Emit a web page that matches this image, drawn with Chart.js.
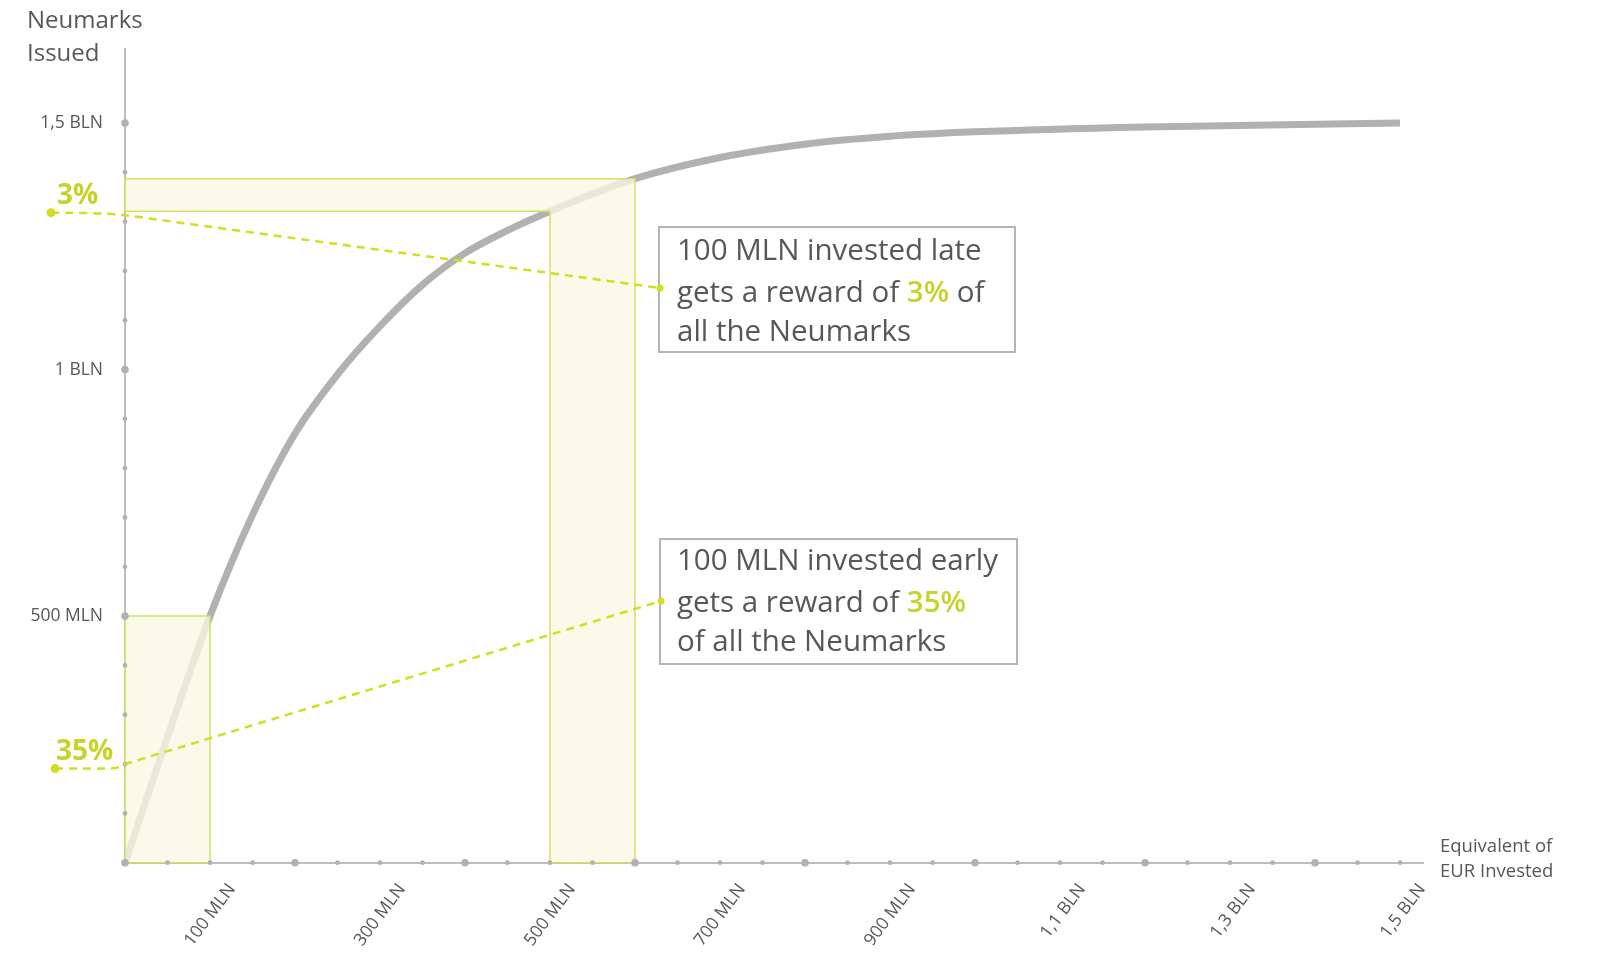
<!DOCTYPE html>
<html lang="en">
<head>
    <meta charset="UTF-8">
    <title>Neumarks issued</title>
    <script src="https://cdn.jsdelivr.net/npm/chart.js"></script>
    <style>
        html, body { margin: 0; padding: 0; background: #fff; }
        #wrap { width: 1600px; height: 960px; position: relative; }
    </style>
</head>
<body>
<div id="wrap"><canvas id="curveChart"></canvas></div>

<script>
    // curve (MLN EUR invested -> MLN Neumarks issued)
    const invested = [0, 50, 100, 150, 200, 250, 300, 350, 400, 450, 500, 600, 700, 800, 900, 1000, 1200, 1500];
    const issued   = [0, 255, 500, 705, 870, 990, 1088, 1172, 1236, 1282, 1321, 1387, 1430, 1457, 1473, 1482, 1492, 1500];

    // x axis: a dot every 50 MLN, bigger every 200 MLN, labels every other 100 MLN
    const xTicks = [0, 50, 100, 150, 200, 250, 300, 350, 400, 450, 500, 550, 600, 650, 700, 750,
                    800, 850, 900, 950, 1000, 1050, 1100, 1150, 1200, 1250, 1300, 1350, 1400, 1450, 1500];
    const xMajor = [0, 200, 400, 600, 800, 1000, 1200, 1400];
    const xLabelValues = [100, 300, 500, 700, 900, 1100, 1300, 1500];
    const xLabelTexts  = ['100 MLN', '300 MLN', '500 MLN', '700 MLN', '900 MLN', '1,1 BLN', '1,3 BLN', '1,5 BLN'];

    // y axis: a dot every 100 MLN
    const yTicks = [0, 100, 200, 300, 400, 500, 600, 700, 800, 900, 1000, 1100, 1200, 1300, 1400, 1500];
    const yMajor = [500, 1000, 1500];
    const yLabelValues = [500, 1000, 1500];
    const yLabelTexts  = ['500 MLN', '1 BLN', '1,5 BLN'];

    // the two 100 MLN slices
    const earlyRange = [0, 100];
    const lateRange  = [500, 600];
    const earlyShare = '35%';
    const lateShare  = '3%';
    // where the dashed callouts cross the y axis (MLN)
    const earlyCross = 200;
    const lateCross  = 1313;

    const GREEN = '#d3de1e';
    const GREEN_TEXT = '#c5d32a';
    const GREY = '#b1b1b1';
    const TEXT = '#575757';
    const FONT = '"Open Sans", sans-serif';

    function issuedAt(v) {
        return issued[invested.indexOf(v)];
    }

    function dot(ctx, x, y, r, color) {
        ctx.beginPath();
        ctx.arc(x, y, r, 0, Math.PI * 2);
        ctx.fillStyle = color;
        ctx.fill();
    }

    // draw text pieces of different colours one after another
    function runs(ctx, parts, x, y) {
        parts.forEach(p => {
            ctx.font = p[2] + ' 29.5px ' + FONT;
            ctx.fillStyle = p[1];
            ctx.fillText(p[0], x, y);
            x += ctx.measureText(p[0]).width;
        });
    }

    const decor = {
        id: 'decor',
        afterDatasetsDraw(chart) {
            const { ctx, scales: { x, y } } = chart;
            const X = v => x.getPixelForValue(v);
            const Y = v => y.getPixelForValue(v);
            ctx.save();
            ctx.fillStyle = 'rgba(247, 248, 228, 0.78)';
            ctx.strokeStyle = '#d6df62';
            ctx.lineWidth = 1.5;

            // early box
            ctx.beginPath();
            ctx.rect(X(earlyRange[0]), Y(issuedAt(earlyRange[1])),
                     X(earlyRange[1]) - X(earlyRange[0]), Y(0) - Y(issuedAt(earlyRange[1])));
            ctx.fill();
            ctx.stroke();

            // late L-shape
            const top = Y(issuedAt(lateRange[1]));
            const bar = Y(issuedAt(lateRange[0]));
            ctx.beginPath();
            ctx.moveTo(X(0), top);
            ctx.lineTo(X(lateRange[1]), top);
            ctx.lineTo(X(lateRange[1]), Y(0));
            ctx.lineTo(X(lateRange[0]), Y(0));
            ctx.lineTo(X(lateRange[0]), bar);
            ctx.lineTo(X(0), bar);
            ctx.closePath();
            ctx.fill();
            ctx.stroke();
            ctx.restore();
        },
        afterDraw(chart) {
            const { ctx, scales: { x, y } } = chart;
            const X = v => x.getPixelForValue(v);
            const Y = v => y.getPixelForValue(v);
            const ax = y.right;
            const ay = x.top;
            ctx.save();

            // axis dots
            xTicks.forEach(v => dot(ctx, X(v), ay, xMajor.includes(v) ? 3.8 : 2.4, GREY));
            yTicks.forEach(v => dot(ctx, ax, Y(v), yMajor.includes(v) ? 3.8 : 2.4, GREY));

            // callout boxes
            const boxes = [
                { left: 659, top: 227, w: 356, h: 125 },
                { left: 660, top: 539, w: 357, h: 125 }
            ];
            ctx.lineWidth = 2;
            ctx.strokeStyle = '#b5b5b5';
            boxes.forEach(b => {
                ctx.fillStyle = '#fff';
                ctx.fillRect(b.left, b.top, b.w, b.h);
                ctx.strokeRect(b.left, b.top, b.w, b.h);
            });

            // dashed callouts
            ctx.strokeStyle = GREEN;
            ctx.lineWidth = 2.5;
            ctx.setLineDash([8, 6]);

            const lateY = Y(lateCross);
            const lateEnd = { x: boxes[0].left + 1, y: boxes[0].top + 61 };
            const lateDot = { x: ax - 74, y: lateY - 2.5 };
            ctx.beginPath();
            ctx.moveTo(lateDot.x, lateDot.y);
            ctx.quadraticCurveTo(ax - 22, lateDot.y, ax, lateY);
            ctx.lineTo(lateEnd.x, lateEnd.y);
            ctx.stroke();

            const earlyY = Y(earlyCross);
            const earlyEnd = { x: boxes[1].left + 1, y: boxes[1].top + 62 };
            const earlyDot = { x: ax - 70, y: earlyY + 4.5 };
            ctx.beginPath();
            ctx.moveTo(earlyDot.x, earlyDot.y);
            ctx.lineTo(ax - 16, earlyDot.y);
            ctx.quadraticCurveTo(ax - 6, earlyDot.y, ax, earlyY);
            ctx.lineTo(earlyEnd.x, earlyEnd.y);
            ctx.stroke();
            ctx.setLineDash([]);

            dot(ctx, lateDot.x, lateDot.y, 4.5, GREEN);
            dot(ctx, earlyDot.x, earlyDot.y, 4.5, GREEN);
            dot(ctx, lateEnd.x, lateEnd.y, 3.5, GREEN);
            dot(ctx, earlyEnd.x, earlyEnd.y, 3.5, GREEN);

            // share labels
            ctx.fillStyle = GREEN_TEXT;
            ctx.font = 'bold 28px ' + FONT;
            ctx.textBaseline = 'alphabetic';
            ctx.fillText(lateShare, lateDot.x + 6, lateY - 11);
            ctx.fillText(earlyShare, earlyDot.x + 1, earlyY - 4);

            // callout texts
            runs(ctx, [['100 MLN invested late', TEXT, 'normal']], 677, 260);
            runs(ctx, [['gets a reward of ', TEXT, 'normal'], [lateShare, GREEN_TEXT, '600'], [' of', TEXT, 'normal']], 677, 302);
            runs(ctx, [['all the Neumarks', TEXT, 'normal']], 677, 341);
            runs(ctx, [['100 MLN invested early', TEXT, 'normal']], 677, 570);
            runs(ctx, [['gets a reward of ', TEXT, 'normal'], [earlyShare, GREEN_TEXT, '600']], 677, 612);
            runs(ctx, [['of all the Neumarks', TEXT, 'normal']], 677, 651);

            // axis titles
            ctx.fillStyle = TEXT;
            ctx.font = '24px ' + FONT;
            ctx.fillText('Neumarks', 27, 28);
            ctx.fillText('Issued', 27, 61);
            ctx.font = '18.5px ' + FONT;
            ctx.fillText('Equivalent of', 1440, 852);
            ctx.fillText('EUR Invested', 1440, 877);
            ctx.restore();
        }
    };

    const ctx = document.getElementById('curveChart').getContext('2d');
    new Chart(ctx, {
        type: 'line',
        data: {
            datasets: [{
                data: invested.map((v, i) => ({ x: v, y: issued[i] })),
                borderColor: GREY,
                borderWidth: 7,
                pointRadius: 0,
                cubicInterpolationMode: 'monotone',
                fill: false
            }]
        },
        options: {
            responsive: true,
            maintainAspectRatio: false,
            animation: false,
            layout: { padding: { top: 49, right: 177, bottom: 0, left: 0 } },
            plugins: { legend: { display: false }, tooltip: { enabled: false } },
            scales: {
                x: {
                    type: 'linear',
                    min: 0,
                    max: 1527,
                    z: 1,
                    grid: { display: false, drawTicks: false },
                    border: { display: true, color: '#bdbdbd', width: 2 },
                    afterBuildTicks: s => { s.ticks = xTicks.map(v => ({ value: v })); },
                    afterFit: s => { s.height = 97.3; },
                    ticks: {
                        autoSkip: false,
                        minRotation: 53,
                        maxRotation: 53,
                        padding: 17,
                        labelOffset: 22,
                        color: TEXT,
                        font: { family: FONT, size: 17.5 },
                        callback: v => {
                            const i = xLabelValues.indexOf(v);
                            return i < 0 ? '' : xLabelTexts[i];
                        }
                    }
                },
                y: {
                    min: 0,
                    max: 1650,
                    z: 1,
                    grid: { display: false, drawTicks: false },
                    border: { display: true, color: '#bdbdbd', width: 2 },
                    afterBuildTicks: s => { s.ticks = yTicks.map(v => ({ value: v })); },
                    afterFit: s => { s.width = 125; },
                    ticks: {
                        autoSkip: false,
                        padding: 22,
                        color: TEXT,
                        font: { family: FONT, size: 17.5 },
                        callback: v => {
                            const i = yLabelValues.indexOf(v);
                            return i < 0 ? '' : yLabelTexts[i];
                        }
                    }
                }
            }
        },
        plugins: [decor]
    });
</script>
</body>
</html>
